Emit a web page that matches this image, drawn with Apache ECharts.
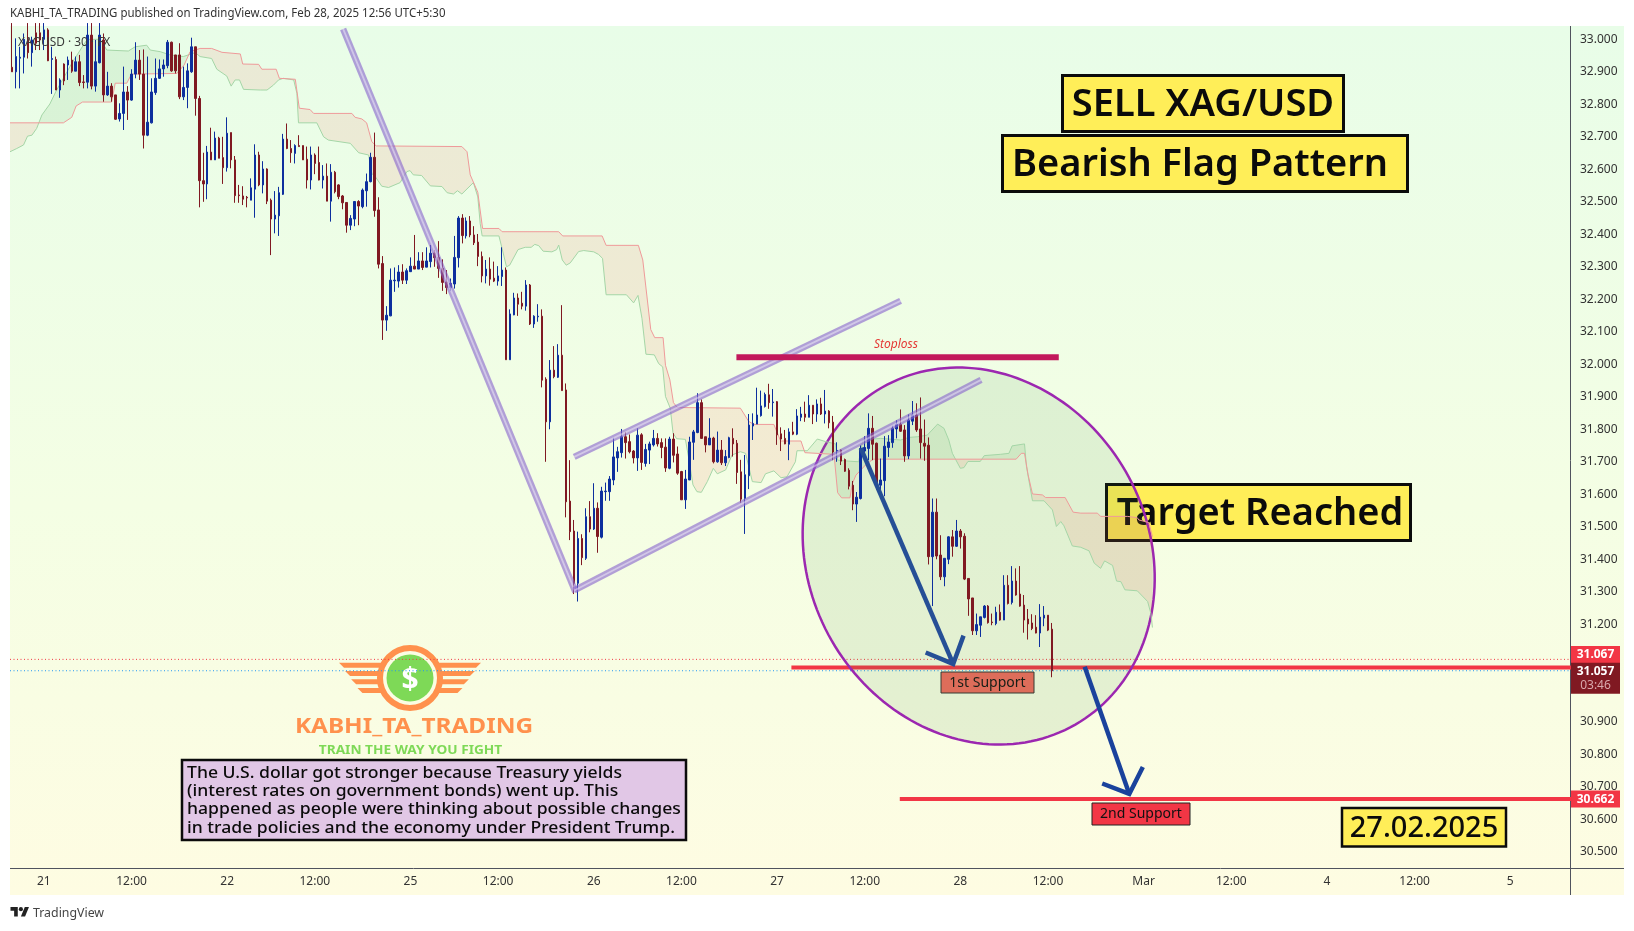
<!DOCTYPE html>
<html>
<head>
<meta charset="utf-8">
<title>XAGUSD</title>
<style>
html,body{margin:0;padding:0;background:#fff;}
#chart{width:1634px;height:931px;}
</style>
<script src="https://cdn.jsdelivr.net/npm/echarts@6/dist/echarts.min.js"></script>
</head>
<body>
<div id="chart"></div>
<script>
// candles, 30 min bars
var opens = [
32.914,32.9,32.942,32.945,33,32.959,33.02,33.02,33,33.029,
32.938,32.938,32.844,32.924,32.921,32.936,32.902,32.931,32.869,32.868,
33.013,32.856,32.928,32.998,32.829,32.856,32.829,32.755,32.772,32.838,
32.813,32.893,32.936,32.893,32.705,32.743,32.836,32.88,32.909,32.919,
32.991,32.952,32.952,32.823,32.852,32.9,32.977,32.818,32.565,32.555,
32.653,32.629,32.696,32.636,32.605,32.713,32.629,32.521,32.518,32.514,
32.505,32.539,32.644,32.552,32.601,32.505,32.447,32.457,32.523,32.693,
32.664,32.649,32.673,32.673,32.631,32.567,32.644,32.621,32.567,32.579,
32.502,32.591,32.552,32.518,32.498,32.428,32.447,32.501,32.485,32.534,
32.562,32.637,32.475,32.31,32.136,32.149,32.257,32.256,32.284,32.259,
32.285,32.302,32.293,32.318,32.299,32.316,32.342,32.329,32.295,32.253,
32.236,32.247,32.328,32.45,32.395,32.441,32.398,32.376,32.332,32.272,
32.293,32.265,32.256,32.27,32.29,32.014,32.152,32.204,32.188,32.179,
32.244,32.124,32.146,32.148,31.954,31.823,31.982,31.96,32.028,31.921,
31.579,31.487,31.326,31.464,31.403,31.531,31.493,31.557,31.468,31.608,
31.608,31.644,31.712,31.728,31.777,31.762,31.733,31.712,31.783,31.695,
31.736,31.752,31.772,31.759,31.745,31.68,31.77,31.724,31.67,31.583,
31.644,31.76,31.79,31.882,31.777,31.752,31.773,31.7,31.736,31.697,
31.713,31.772,31.757,31.669,31.587,31.657,31.81,31.816,31.842,31.87,
31.906,31.882,31.885,31.786,31.772,31.754,31.792,31.785,31.837,31.847,
31.837,31.874,31.847,31.878,31.847,31.856,31.822,31.733,31.736,31.707,
31.674,31.628,31.57,31.587,31.733,31.741,31.803,31.757,31.628,31.642,
31.744,31.759,31.801,31.815,31.798,31.718,31.825,31.844,31.801,31.757,
31.751,31.408,31.545,31.413,31.346,31.4,31.469,31.44,31.487,31.471,
31.341,31.281,31.18,31.197,31.221,31.256,31.207,31.202,31.237,31.213,
31.32,31.267,31.333,31.293,31.259,31.216,31.204,31.191,31.173,31.219,
31.228,31.185
];
var closes = [
32.9,32.947,32.945,33,32.959,32.998,32.988,32.998,33.029,32.934,
32.941,32.844,32.875,32.872,32.936,32.902,32.931,32.867,32.867,33.013,
32.856,32.931,33.013,32.829,32.856,32.823,32.754,32.772,32.838,32.813,
32.893,32.936,32.893,32.705,32.745,32.838,32.88,32.909,32.921,32.991,
32.903,32.903,32.823,32.852,32.903,32.977,32.818,32.565,32.555,32.653,
32.629,32.696,32.634,32.605,32.711,32.629,32.519,32.519,32.508,32.512,
32.543,32.644,32.552,32.601,32.502,32.447,32.459,32.528,32.693,32.664,
32.651,32.673,32.67,32.629,32.567,32.644,32.618,32.567,32.579,32.502,
32.591,32.531,32.516,32.497,32.428,32.449,32.501,32.487,32.536,32.562,
32.637,32.473,32.308,32.136,32.151,32.259,32.259,32.284,32.259,32.288,
32.302,32.293,32.318,32.298,32.318,32.342,32.328,32.295,32.252,32.236,
32.249,32.329,32.45,32.396,32.441,32.398,32.374,32.332,32.272,32.293,
32.262,32.256,32.272,32.29,32.014,32.155,32.204,32.185,32.179,32.244,
32.124,32.148,32.148,31.951,31.823,31.982,31.962,32.028,31.919,31.577,
31.485,31.326,31.464,31.405,31.531,31.493,31.557,31.47,31.61,31.61,
31.647,31.715,31.731,31.777,31.759,31.731,31.712,31.782,31.698,31.738,
31.755,31.772,31.755,31.744,31.681,31.77,31.72,31.665,31.583,31.647,
31.761,31.792,31.882,31.772,31.752,31.773,31.7,31.736,31.697,31.716,
31.774,31.755,31.667,31.585,31.66,31.813,31.818,31.844,31.872,31.907,
31.882,31.884,31.783,31.77,31.755,31.792,31.785,31.841,31.847,31.837,
31.874,31.847,31.878,31.847,31.856,31.82,31.73,31.735,31.702,31.671,
31.625,31.57,31.591,31.741,31.744,31.803,31.754,31.628,31.644,31.748,
31.761,31.803,31.815,31.794,31.718,31.828,31.844,31.798,31.759,31.748,
31.408,31.545,31.41,31.346,31.403,31.469,31.44,31.487,31.469,31.339,
31.278,31.18,31.199,31.223,31.256,31.205,31.205,31.237,31.213,31.32,
31.264,31.333,31.29,31.256,31.213,31.201,31.187,31.173,31.222,31.228,
31.182,31.057
];
var lows = [
32.9,32.849,32.849,32.895,32.941,32.916,32.967,32.967,32.967,32.933,
32.832,32.844,32.82,32.859,32.875,32.897,32.902,32.856,32.849,32.849,
32.846,32.839,32.926,32.808,32.826,32.808,32.752,32.747,32.721,32.752,
32.811,32.88,32.875,32.664,32.702,32.741,32.829,32.878,32.885,32.911,
32.9,32.895,32.816,32.813,32.788,32.897,32.765,32.483,32.5,32.508,
32.629,32.629,32.634,32.555,32.593,32.603,32.497,32.497,32.49,32.483,
32.505,32.451,32.548,32.526,32.493,32.336,32.403,32.395,32.521,32.662,
32.62,32.618,32.67,32.629,32.541,32.538,32.585,32.566,32.541,32.502,
32.439,32.526,32.508,32.477,32.405,32.413,32.425,32.428,32.48,32.485,
32.56,32.454,32.295,32.075,32.103,32.148,32.223,32.236,32.247,32.247,
32.285,32.293,32.293,32.29,32.299,32.298,32.3,32.266,32.226,32.216,
32.226,32.233,32.298,32.372,32.387,32.391,32.367,32.302,32.252,32.249,
32.242,32.253,32.242,32.241,32.014,32.014,32.151,32.149,32.169,32.165,
32.121,32.112,32.131,31.929,31.7,31.8,31.957,31.958,31.919,31.529,
31.459,31.293,31.27,31.382,31.398,31.483,31.49,31.42,31.464,31.58,
31.58,31.628,31.669,31.713,31.71,31.726,31.695,31.672,31.675,31.685,
31.693,31.747,31.747,31.711,31.669,31.677,31.698,31.66,31.583,31.555,
31.644,31.706,31.788,31.771,31.729,31.752,31.695,31.697,31.69,31.687,
31.711,31.716,31.632,31.574,31.478,31.616,31.767,31.816,31.839,31.867,
31.863,31.839,31.752,31.733,31.754,31.705,31.782,31.782,31.825,31.823,
31.837,31.816,31.823,31.844,31.818,31.803,31.705,31.7,31.69,31.669,
31.615,31.551,31.515,31.584,31.707,31.705,31.705,31.613,31.613,31.594,
31.715,31.743,31.772,31.792,31.7,31.708,31.813,31.792,31.71,31.703,
31.384,31.256,31.4,31.336,31.317,31.385,31.408,31.438,31.433,31.336,
31.226,31.167,31.167,31.161,31.218,31.202,31.197,31.197,31.211,31.213,
31.261,31.261,31.288,31.254,31.174,31.153,31.182,31.172,31.13,31.194,
31.179,31.037
];
var highs = [
33.05,33.003,32.977,33.018,33.05,33.008,33.05,33.05,33.05,33.034,
32.977,32.947,32.88,32.926,32.947,32.962,32.947,32.952,32.89,33.05,
33.05,32.998,33.05,33.018,32.9,32.865,32.829,32.803,32.916,32.856,
32.908,32.991,32.967,32.969,32.947,32.88,32.941,32.938,32.938,32.998,
32.993,32.952,32.988,32.916,32.926,33.005,32.977,32.826,32.651,32.672,
32.728,32.716,32.7,32.7,32.76,32.713,32.641,32.552,32.548,32.518,
32.572,32.677,32.654,32.625,32.603,32.51,32.533,32.546,32.709,32.741,
32.69,32.677,32.705,32.673,32.67,32.67,32.649,32.67,32.613,32.618,
32.616,32.595,32.554,32.521,32.498,32.459,32.501,32.505,32.541,32.587,
32.651,32.713,32.514,32.333,32.179,32.295,32.298,32.305,32.308,32.295,
32.329,32.398,32.345,32.345,32.36,32.367,32.352,32.379,32.323,32.29,
32.264,32.395,32.456,32.462,32.452,32.456,32.425,32.401,32.347,32.321,
32.329,32.316,32.302,32.36,32.298,32.169,32.22,32.218,32.223,32.259,
32.247,32.151,32.185,32.169,31.96,32.013,32.056,32.062,32.182,31.941,
31.705,31.521,31.485,31.477,31.557,31.579,31.634,31.575,31.623,31.636,
31.656,31.774,31.746,31.801,31.792,31.784,31.736,31.803,31.788,31.755,
31.762,31.798,31.788,31.772,31.772,31.777,31.788,31.747,31.672,31.675,
31.777,31.798,31.911,31.892,31.777,31.834,31.777,31.793,31.767,31.736,
31.777,31.803,31.767,31.706,31.721,31.847,31.849,31.928,31.919,31.913,
31.94,31.924,31.887,31.806,31.798,31.803,31.823,31.862,31.869,31.885,
31.905,31.874,31.892,31.897,31.921,31.859,31.841,31.76,31.738,31.71,
31.68,31.641,31.607,31.751,31.779,31.849,31.841,31.759,31.71,31.779,
31.782,31.811,31.828,31.861,31.813,31.846,31.887,31.88,31.898,31.83,
31.775,31.587,31.587,31.474,31.403,31.471,31.49,31.521,31.493,31.48,
31.341,31.281,31.233,31.223,31.259,31.259,31.233,31.254,31.261,31.351,
31.351,31.379,31.372,31.379,31.29,31.247,31.231,31.228,31.262,31.256,
31.228,31.204
];

// time axis: bar slot of each label (the time axis runs on past the last candle)
var slotCount = 392;
var timeTickSlots = [8,30,54,76,100,122,146,168,192,214,238,260,284,306,330,352,376];
var timeTickLabels = ['21','12:00','22','12:00','25','12:00','26','12:00','27','12:00','28','12:00','Mar','12:00','4','12:00','5'];
var priceTicks = [30.5,30.6,30.7,30.8,30.9,31,31.1,31.2,31.3,31.4,31.5,31.6,31.7,31.8,31.9,32,32.1,32.2,32.3,32.4,32.5,32.6,32.7,32.8,32.9,33];

// cloud edges as [bar slot, price] corners
var senkouA = [[-0.5,32.654],[1.2,32.664],[2.9,32.675],[3.9,32.702],[5,32.705],[6.2,32.726],[7.5,32.767],[9.5,32.801],[11.2,32.844],[12.9,32.88],[15,32.926],[17.9,32.982],[18.9,33],[22.1,33],[23.8,32.967],[29.2,32.964],[30.9,32.977],[33.8,32.982],[34.7,32.967],[37.2,32.962],[39.7,32.952],[43,32.947],[46,32.959],[47.2,32.947],[50.1,32.941],[51.4,32.908],[53.9,32.887],[55,32.856],[56,32.875],[57.1,32.875],[58.1,32.846],[62.3,32.844],[64,32.844],[65.6,32.859],[66.9,32.875],[68.1,32.88],[70.7,32.875],[71.5,32.834],[71.9,32.743],[76.5,32.743],[78.2,32.7],[79.4,32.69],[84.9,32.68],[87,32.651],[89.5,32.644],[90.3,32.587],[91.2,32.577],[92.8,32.548],[94.5,32.544],[97.4,32.559],[99.1,32.593],[99.9,32.596],[100.7,32.583],[102.8,32.581],[105,32.549],[107.9,32.547],[109.2,32.528],[110.8,32.524],[111.8,32.534],[112.9,32.524],[115.8,32.559],[116.9,32.515],[117.5,32.433],[118,32.395],[122.2,32.395],[123,32.356],[124.1,32.3],[124.9,32.305],[127,32.353],[128.8,32.36],[130.3,32.36],[131.2,32.369],[132.2,32.365],[133.3,32.348],[135.5,32.346],[136.7,32.353],[137.2,32.367],[138.1,32.321],[139.1,32.305],[140.1,32.312],[142.2,32.347],[143.5,32.35],[146,32.346],[147.2,32.338],[148.2,32.326],[149.1,32.214],[154.2,32.214],[156,32.189],[157.1,32.212],[158.1,32.141],[159.1,32.031],[161.2,32.029],[162.3,32.002],[163.3,31.992],[164,31.901],[165.2,31.865],[165.9,31.788],[166.8,31.771],[169,31.769],[169.9,31.706],[170.9,31.629],[171.9,31.608],[173,31.606],[174.5,31.639],[176,31.68],[177,31.663],[179.1,31.675],[180.7,31.721],[182.8,31.731],[184.1,31.726],[185.8,31.639],[188,31.636],[189.1,31.663],[191.2,31.672],[193,31.651],[194.5,31.654],[196.6,31.7],[197,31.734],[199.6,31.734],[202.1,31.77],[204.2,31.762],[206.7,31.755],[207.2,31.705],[210,31.702],[212.5,31.7],[213.5,31.767],[218,31.772],[223,31.767],[225.1,31.775],[227.2,31.777],[229.7,31.782],[232.3,31.816],[233.9,31.803],[235.1,31.767],[236,31.726],[238,31.68],[238.9,31.682],[239.9,31.701],[243,31.701],[244,31.719],[248.1,31.723],[250.2,31.726],[251,31.749],[254.1,31.755],[254.6,31.685],[256.1,31.58],[259,31.58],[261.1,31.552],[262.1,31.501],[263.2,31.516],[264,31.503],[266.1,31.441],[268.2,31.437],[270.3,31.426],[271.6,31.388],[273.2,31.372],[274.2,31.395],[276.2,31.381],[277.2,31.333],[278.3,31.331],[279.3,31.306],[282.4,31.303],[285,31.27],[285.8,31.234],[286.2,31.19]];
var senkouB = [[-0.5,32.743],[12.9,32.743],[15,32.76],[16.1,32.795],[17.7,32.807],[25,32.807],[25.9,32.865],[28.8,32.865],[30,32.893],[41.4,32.895],[43.2,32.921],[44.7,32.962],[47.2,32.972],[50.1,32.972],[52.7,32.96],[57.3,32.955],[57.9,32.924],[61.9,32.923],[62.7,32.908],[66.3,32.908],[67.1,32.88],[71.1,32.877],[72.1,32.788],[74.8,32.784],[75.7,32.772],[85.3,32.772],[86.1,32.76],[87.8,32.755],[89,32.743],[90.3,32.685],[91.4,32.672],[112.9,32.67],[114.2,32.654],[115,32.583],[116.9,32.529],[118.1,32.418],[122.2,32.418],[123,32.408],[137.2,32.408],[138.2,32.395],[148.1,32.395],[149.1,32.366],[157.2,32.366],[158.3,32.321],[160.3,32.107],[161.3,32.082],[163.4,32.082],[164,31.997],[165.1,31.952],[166,31.882],[167,31.867],[182.8,31.865],[184.9,31.824],[186.2,31.815],[191.2,31.815],[192.9,31.764],[198,31.764],[199,31.728],[206.3,31.723],[207.2,31.605],[208.2,31.589],[210.3,31.589],[210.9,31.633],[211.8,31.659],[214.2,31.69],[216.1,31.708],[252,31.708],[253.3,31.726],[254.1,31.726],[255,31.66],[256.1,31.601],[258.6,31.598],[259.4,31.59],[264.3,31.59],[266.3,31.545],[268.2,31.542],[272.4,31.542],[273.2,31.532],[279.9,31.532],[282.4,31.528],[282.8,31.521],[285.3,31.513],[286.2,31.47]];
// where the cloud changes colour: [from slot, to slot, 1 = A on top]
var cloudRuns = [[-0.5,6.7,0],[6.7,44.3,1],[44.3,198.83,0],[198.83,236.8,1],[236.8,243.4,0],[243.4,254.55,1],[254.55,286.2,0]];

// drawings: [slot, price, slot, price]
var flagLines = [[83.1,33.032,141.4,31.299],[141.1,31.715,223,32.195],[141.1,31.304,243.2,31.952]];
// [slot from, slot to, price]
var stoplossLine = [[181.8,262.7,32.022]];
var supportLines = [[195.6,391.5,31.067],[222.8,391.5,30.662]];
var prevCloseLine = [[-0.5,391.5,31.092]];
var lastPriceLine = [[-0.5,391.5,31.057]];
// [tail, tip, head left, head right] as slot,price
var arrows = [
	[213,31.742,236.2,31.078,229.3,31.113,238.8,31.165],
	[269.2,31.069,280.4,30.678,273.6,30.71,283.8,30.761]
];
var circleCentre = [[242.6,31.41]];
var priceTags = [[31.067],[31.057],[30.662]];

var FONT = '"Noto Sans", sans-serif';
var chart = echarts.init(document.getElementById('chart'));

function slotNames(){
	var arr = [];
	for(var i = 0; i < slotCount; i++){
		var k = timeTickSlots.indexOf(i);
		arr.push(k >= 0 ? timeTickLabels[k] : '');
	}
	return arr;
}

function edgeAt(knots, x){
	for(var i = 1; i < knots.length; i++){
		if(x <= knots[i][0]){
			var a = knots[i - 1], b = knots[i];
			return a[1] + (b[1] - a[1]) * (x - a[0]) / (b[0] - a[0]);
		}
	}
	return knots[knots.length - 1][1];
}

function cloudRender(params, api){
	var from = api.value(0), to = api.value(1), pts = [];
	pts.push(api.coord([from, edgeAt(senkouA, from)]));
	senkouA.forEach(function(k){
		if(k[0] > from && k[0] < to) pts.push(api.coord(k));
	});
	pts.push(api.coord([to, edgeAt(senkouA, to)]));
	pts.push(api.coord([to, edgeAt(senkouB, to)]));
	senkouB.slice().reverse().forEach(function(k){
		if(k[0] > from && k[0] < to) pts.push(api.coord(k));
	});
	pts.push(api.coord([from, edgeAt(senkouB, from)]));
	return {
		type: 'polygon',
		shape: {points: pts},
		style: {fill: api.value(2) ? 'rgba(67,160,71,0.1)' : 'rgba(244,67,54,0.1)'}
	};
}

function edgeSeries(knots, color){
	return {
		type: 'custom', xAxisIndex: 1, z: 4, silent: true,
		data: [[0, 0]],
		renderItem: function(params, api){
			return {
				type: 'polyline',
				shape: {points: knots.map(function(k){ return api.coord(k); })},
				style: {stroke: color, lineWidth: 1, fill: null}
			};
		}
	};
}

function levelSeries(data, color, width, z, dash){
	return {
		type: 'custom', xAxisIndex: 1, z: z, silent: true,
		data: data,
		renderItem: function(params, api){
			var a = api.coord([api.value(0), api.value(2)]);
			var b = api.coord([api.value(1), api.value(2)]);
			return {
				type: 'line',
				shape: {x1: a[0], y1: a[1], x2: b[0], y2: b[1]},
				style: {stroke: color, lineWidth: width, lineDash: dash || null}
			};
		}
	};
}

function flagRender(params, api){
	var a = api.coord([api.value(0), api.value(1)]);
	var b = api.coord([api.value(2), api.value(3)]);
	var shape = {x1: a[0], y1: a[1], x2: b[0], y2: b[1]};
	return {
		type: 'group',
		children: [
			{type: 'line', shape: shape, style: {stroke: 'rgba(136,100,205,0.62)', lineWidth: 6.5}},
			{type: 'line', shape: shape, style: {stroke: 'rgba(255,255,255,0.42)', lineWidth: 1.8}}
		]
	};
}

function arrowRender(params, api){
	var tail = api.coord([api.value(0), api.value(1)]);
	var tip = api.coord([api.value(2), api.value(3)]);
	var left = api.coord([api.value(4), api.value(5)]);
	var right = api.coord([api.value(6), api.value(7)]);
	var color = params.dataIndex == 0 ? '#264f96' : '#1a429c';
	var st = {stroke: color, lineWidth: 4.5, fill: null, lineJoin: 'miter'};
	return {
		type: 'group',
		children: [
			{type: 'polyline', shape: {points: [tail, tip]}, style: st},
			{type: 'polyline', shape: {points: [left, tip, right]}, style: st}
		]
	};
}

// tilted ring around the last leg, sized in pixels like the drawing tool did
function circleRender(params, api){
	var c = api.coord([api.value(0), api.value(1)]);
	var pts = [], rx = 194.3, ry = 169.6, tilt = 1.05;
	for(var i = 0; i < 180; i++){
		var t = i / 180 * Math.PI * 2;
		var ex = Math.cos(t) * rx, ey = Math.sin(t) * ry;
		pts.push([
			c[0] + ex * Math.cos(tilt) - ey * Math.sin(tilt),
			c[1] + ex * Math.sin(tilt) + ey * Math.cos(tilt)
		]);
	}
	return {
		type: 'polygon',
		shape: {points: pts},
		style: {fill: 'rgba(70,140,70,0.115)', stroke: '#9c27b0', lineWidth: 2.5}
	};
}

// tags sit on the price scale, pushed apart where they would collide
var tagShift = [-13, 7.5, 0];
var tagHeight = [17, 31, 17];
var tagColor = ['#f23645', '#801922', '#f23645'];
function tagRender(params, api){
	var i = params.dataIndex;
	var y = api.coord([391.5, api.value(0)])[1] + tagShift[i];
	var kids = [
		{type: 'rect', shape: {x: 1571, y: y - tagHeight[i] / 2, width: 49, height: tagHeight[i]}, style: {fill: tagColor[i]}}
	];
	var label = api.value(0).toFixed(3);
	if(i == 1){
		kids.push({type: 'text', x: 1595.5, y: y - 7, style: {text: label, fill: '#fff', font: 'bold 12px ' + FONT, align: 'center', verticalAlign: 'middle'}});
		kids.push({type: 'text', x: 1595.5, y: y + 7.5, style: {text: '03:46', fill: '#d9a9ad', font: '12px ' + FONT, align: 'center', verticalAlign: 'middle'}});
	}else{
		kids.push({type: 'text', x: 1595.5, y: y, style: {text: label, fill: '#fff', font: 'bold 12px ' + FONT, align: 'center', verticalAlign: 'middle'}});
	}
	return {type: 'group', children: kids};
}

function txt(x, y, text, size, weight, color, z, extra){
	var o = {
		type: 'text', x: x, y: y, z: z, silent: true,
		style: {
			text: text, fill: color,
			font: weight + ' ' + size + 'px ' + FONT,
			align: 'left', verticalAlign: 'middle'
		}
	};
	for(var k in extra){
		if(k == 'align' || k == 'lineHeight') o.style[k] = extra[k];
		else o[k] = extra[k];
	}
	return o;
}

function box(x, y, w, h, fill, stroke, lw, z){
	return {type: 'rect', z: z, silent: true, shape: {x: x, y: y, width: w, height: h}, style: {fill: fill, stroke: stroke, lineWidth: lw}};
}

function wing(y, dir){
	// one stripe of the logo wing, mirrored around the ring
	var cx = 410, top = 71 - (y - 662.7) * 0.73, bot = top - 5;
	return {type: 'polygon', z: 1, silent: true, shape: {points: [
		[cx + dir * top, y], [cx + dir * 22, y], [cx + dir * 22, y + 5], [cx + dir * bot, y + 5]
	]}, style: {fill: '#ff914d'}};
}

function tvMark(points){
	return {type: 'polygon', z: 20, silent: true, x: 10.5, y: 905, scaleX: 0.52, scaleY: 0.52, shape: {points: points}, style: {fill: '#222'}};
}

var ORANGE = '#ff914d';
var YELLOW = '#ffee58';
var INK = '#0b0b0b';
var graphicItems = [
	// page background of the pane
	{type: 'rect', z: -100, silent: true, shape: {x: 10, y: 26, width: 1614, height: 869},
		style: {fill: new echarts.graphic.LinearGradient(0, 0, 0, 1, [
			{offset: 0, color: '#e8fde8'}, {offset: 0.55, color: '#f4fee4'}, {offset: 1, color: '#fefce2'}
		])}},
	{type: 'line', z: 0, silent: true, shape: {x1: 1570.5, y1: 26, x2: 1570.5, y2: 895}, style: {stroke: '#50535e', lineWidth: 1}},
	{type: 'line', z: 0, silent: true, shape: {x1: 10, y1: 868.5, x2: 1624, y2: 868.5}, style: {stroke: '#50535e', lineWidth: 1}},
	txt(10, 14, 'KABHI_TA_TRADING published on TradingView.com, Feb 28, 2025 12:56 UTC+5:30', 12, 'normal', '#333', 20, {scaleX: 0.955}),
	txt(18, 42, 'XAGUSD · 30 · FX', 12.5, 'normal', '#3a3a3a', 20, {scaleX: 0.95}),
	// logo
	wing(662.7, -1), wing(671, -1), wing(679.3, -1), wing(688, -1),
	wing(662.7, 1), wing(671, 1), wing(679.3, 1), wing(688, 1),
	{type: 'circle', z: 1, silent: true, shape: {cx: 410, cy: 678, r: 30}, style: {fill: '#fbfde3', stroke: ORANGE, lineWidth: 6}},
	{type: 'circle', z: 1, silent: true, shape: {cx: 410, cy: 678, r: 23.5}, style: {fill: '#7ed957'}},
	txt(410, 680, '$', 30, 'bold', '#fff', 1, {align: 'center'}),
	txt(414, 727, 'KABHI_TA_TRADING', 21, 'bold', ORANGE, 1, {align: 'center', scaleX: 1.16}),
	txt(410.5, 751, 'TRAIN THE WAY YOU FIGHT', 12, 'bold', '#7ed957', 1, {align: 'center', scaleX: 1.14}),
	// yellow boxes
	box(1062.5, 75.5, 281, 56, YELLOW, INK, 3, 7),
	txt(1203, 105, 'SELL XAG/USD', 38, '600', INK, 9, {align: 'center'}),
	box(1002.5, 135.5, 405, 56, YELLOW, INK, 3, 7),
	txt(1200, 165, 'Bearish Flag Pattern', 38, '600', INK, 9, {align: 'center'}),
	box(1106.5, 484.5, 304, 56, YELLOW, INK, 3, 1),
	txt(1260, 514, 'Target Reached', 38, '600', INK, 1, {align: 'center'}),
	box(1342, 808, 164, 38.5, YELLOW, INK, 2.5, 7),
	txt(1424, 829, '27.02.2025', 29, '500', INK, 9, {align: 'center'}),
	// news box
	box(182, 760, 504, 80, '#e1c7e6', INK, 2.5, 7),
	txt(187, 800.5, 'The U.S. dollar got stronger because Treasury yields\n(interest rates on government bonds) went up. This\nhappened as people were thinking about possible changes\nin trade policies and the economy under President Trump.', 17, '500', INK, 9, {lineHeight: 18.2, scaleX: 1.035}),
	// support labels
	box(941, 672, 93, 21, '#f2695d', '#333', 1, 1),
	txt(987.5, 683, '1st Support', 14, 'normal', '#111', 1, {align: 'center'}),
	box(1092, 803, 98, 22, '#f23645', '#222', 1, 7),
	txt(1141, 814.5, '2nd Support', 14, 'normal', '#111', 9, {align: 'center'}),
	txt(896, 345, 'Stoploss', 12, 'italic', '#e53935', 9, {align: 'center'}),
	// footer
	tvMark([[14,22],[7,22],[7,11],[0,11],[0,4],[14,4]]),
	tvMark([[28,22],[20,22],[27.5,4],[35.5,4]]),
	{type: 'circle', z: 20, silent: true, x: 10.5, y: 905, scaleX: 0.52, scaleY: 0.52, shape: {cx: 20, cy: 8, r: 4}, style: {fill: '#222'}},
	txt(33, 913, 'TradingView', 13, 'normal', '#444', 20, {scaleX: 0.95})
];

var option = {
	animation: false,
	grid: {left: 10, top: 26, width: 1562, height: 842},
	xAxis: [{
		type: 'category',
		data: slotNames(),
		axisLine: {show: false},
		axisTick: {show: false},
		splitLine: {show: false},
		axisLabel: {
			interval: function(index){ return timeTickSlots.indexOf(index) >= 0; },
			margin: 8, color: '#333', fontSize: 12, fontFamily: FONT, hideOverlap: false
		}
	}, {
		type: 'value', show: false, min: -0.5, max: slotCount - 0.5
	}],
	yAxis: {
		type: 'value', position: 'right',
		min: 30.45, max: 33.041,
		axisLine: {show: false},
		axisTick: {show: false},
		splitLine: {show: false},
		axisLabel: {
			customValues: priceTicks,
			formatter: function(value){ return value.toFixed(3); },
			margin: 8, color: '#333', fontSize: 12, fontFamily: FONT
		}
	},
	graphic: {elements: graphicItems},
	series: [
		levelSeries(supportLines, '#f23645', 4, 2),
		levelSeries(prevCloseLine, '#f23645', 1, 2, [1, 2.5]),
		levelSeries(lastPriceLine, '#2196f3', 1, 2, [1, 2.5]),
		{type: 'custom', xAxisIndex: 1, z: 3, silent: true, data: circleCentre, renderItem: circleRender},
		{type: 'custom', xAxisIndex: 1, z: 4, silent: true, data: cloudRuns, renderItem: cloudRender},
		edgeSeries(senkouA, '#a5d6a7'),
		edgeSeries(senkouB, '#ef9a9a'),
		{
			type: 'candlestick', z: 5, silent: true, xAxisIndex: 0,
			barWidth: 2,
			data: opens.map(function(o, i){ return [o, closes[i], lows[i], highs[i]]; }),
			itemStyle: {color: '#0d2f9e', color0: '#801922', borderColor: '#0d2f9e', borderColor0: '#801922', borderWidth: 1}
		},
		{type: 'custom', xAxisIndex: 1, z: 6, silent: true, data: flagLines, renderItem: flagRender},
		levelSeries(stoplossLine, '#c2185b', 6, 6),
		{type: 'custom', xAxisIndex: 1, z: 6, silent: true, data: arrows, renderItem: arrowRender},
		{type: 'custom', xAxisIndex: 1, z: 8, silent: true, data: priceTags, renderItem: tagRender}
	]
};
chart.setOption(option);
</script>
</body>
</html>
